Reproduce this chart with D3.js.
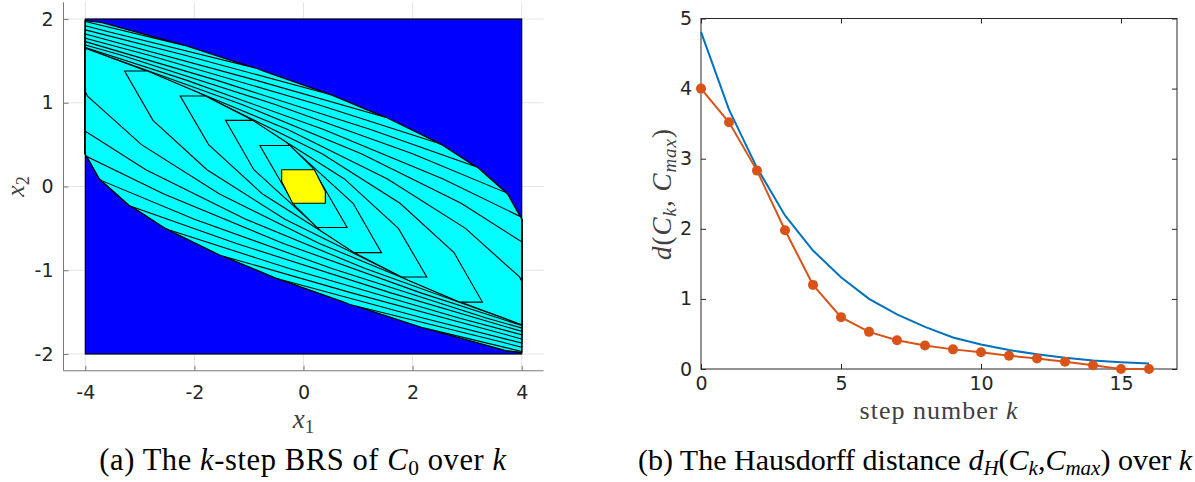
<!DOCTYPE html>
<html><head><meta charset="utf-8">
<script src="https://cdn.jsdelivr.net/npm/d3@7"></script>
<style>body{margin:0;background:#fff;} svg{display:block;}</style>
</head><body>
<svg id="c" width="1195" height="482"></svg>
<script>
// ---------- (a) k-step backward reachable sets (polygon vertices, x1,x2) ----------
const C0 = [[-0.40,0.20],[-0.40,0.06],[-0.20,-0.20],[0.40,-0.20],[0.40,-0.06],[0.20,0.20]];
const C1 = [[-0.80,0.49],[-0.25,0.49],[0.16,0.23],[0.80,-0.49],[0.25,-0.49],[-0.16,-0.23]];
const C2 = [[-1.43,0.79],[-0.93,0.79],[-0.32,0.53],[0.91,-0.20],[1.43,-0.79],[0.93,-0.79],[0.32,-0.53],[-0.91,0.20]];
const C3 = [[-2.26,1.08],[-1.80,1.08],[-1.02,0.82],[0.75,0.09],[1.74,-0.50],[2.26,-1.08],[1.80,-1.08],[1.02,-0.82],[-0.75,-0.09],[-1.74,0.50]];
const C4 = [[-3.28,1.38],[-2.86,1.38],[-1.92,1.12],[0.34,0.39],[1.77,-0.20],[2.76,-0.79],[3.28,-1.38],[2.86,-1.38],[1.92,-1.12],[-0.34,-0.39],[-1.77,0.20],[-2.76,0.79]];
const C5 = [[-4.00,1.65],[-3.00,1.41],[-0.29,0.68],[1.54,0.09],[2.97,-0.50],[3.96,-1.08],[4.00,-1.13],[4.00,-1.65],[3.00,-1.41],[0.29,-0.68],[-1.54,-0.09],[-2.97,0.50],[-3.96,1.08],[-4.00,1.13]];
const C6 = [[-4.00,1.65],[-1.13,0.98],[1.06,0.39],[2.89,-0.20],[4.00,-0.66],[4.00,-1.65],[1.13,-0.98],[-1.06,-0.39],[-2.89,0.20],[-4.00,0.66]];
const C7 = [[-4.00,1.66],[-2.15,1.27],[0.37,0.68],[2.56,0.09],[3.98,-0.36],[4.00,-0.39],[4.00,-1.66],[2.15,-1.27],[-0.37,-0.68],[-2.56,-0.09],[-3.98,0.36],[-4.00,0.39]];
const C8 = [[-4.00,1.69],[-3.35,1.57],[-0.52,0.98],[2.00,0.39],[3.70,-0.07],[3.74,-0.09],[4.00,-0.39],[4.00,-1.69],[3.35,-1.57],[0.52,-0.98],[-2.00,-0.39],[-3.70,0.07],[-3.74,0.09],[-4.00,0.39]];
const C9 = [[-4.00,1.73],[-1.60,1.27],[1.23,0.68],[3.19,0.23],[3.24,0.20],[3.74,-0.09],[4.00,-0.39],[4.00,-1.73],[1.60,-1.27],[-1.23,-0.68],[-3.19,-0.23],[-3.24,-0.20],[-3.74,0.09],[-4.00,0.39]];
const C10 = [[-4.00,1.77],[-2.85,1.57],[0.26,0.98],[2.46,0.52],[2.53,0.50],[3.24,0.20],[3.74,-0.09],[4.00,-0.39],[4.00,-1.77],[2.85,-1.57],[-0.26,-0.98],[-2.46,-0.52],[-2.53,-0.50],[-3.24,-0.20],[-3.74,0.09],[-4.00,0.39]];
const C11 = [[-4.00,1.82],[-0.88,1.27],[1.53,0.82],[1.62,0.79],[2.53,0.50],[3.24,0.20],[3.74,-0.09],[4.00,-0.39],[4.00,-1.82],[0.88,-1.27],[-1.53,-0.82],[-1.62,-0.79],[-2.53,-0.50],[-3.24,-0.20],[-3.74,0.09],[-4.00,0.39]];
const C12 = [[-4.00,1.87],[-2.19,1.57],[0.42,1.11],[0.52,1.09],[1.62,0.79],[2.53,0.50],[3.24,0.20],[3.74,-0.09],[4.00,-0.39],[4.00,-1.87],[2.19,-1.57],[-0.42,-1.11],[-0.52,-1.09],[-1.62,-0.79],[-2.53,-0.50],[-3.24,-0.20],[-3.74,0.09],[-4.00,0.39]];
const C13 = [[-4.00,1.92],[-3.65,1.86],[-0.85,1.41],[-0.74,1.38],[0.52,1.09],[1.62,0.79],[2.53,0.50],[3.24,0.20],[3.74,-0.09],[4.00,-0.39],[4.00,-1.92],[3.65,-1.86],[0.85,-1.41],[0.74,-1.38],[-0.52,-1.09],[-1.62,-0.79],[-2.53,-0.50],[-3.24,-0.20],[-3.74,0.09],[-4.00,0.39]];
const C14 = [[-4.00,1.97],[-2.28,1.70],[-2.16,1.68],[-0.74,1.38],[0.52,1.09],[1.62,0.79],[2.53,0.50],[3.24,0.20],[3.74,-0.09],[4.00,-0.39],[4.00,-1.97],[2.28,-1.70],[2.16,-1.68],[0.74,-1.38],[-0.52,-1.09],[-1.62,-0.79],[-2.53,-0.50],[-3.24,-0.20],[-3.74,0.09],[-4.00,0.39]];
const C15 = [[-4.00,1.98],[-3.71,1.96],[-2.16,1.68],[-0.74,1.38],[0.52,1.09],[1.62,0.79],[2.53,0.50],[3.24,0.20],[3.74,-0.09],[4.00,-0.39],[4.00,-1.98],[3.71,-1.96],[2.16,-1.68],[0.74,-1.38],[-0.52,-1.09],[-1.62,-0.79],[-2.53,-0.50],[-3.24,-0.20],[-3.74,0.09],[-4.00,0.39]];
const C16 = [[-4.00,1.98],[-3.71,1.96],[-2.16,1.68],[-0.74,1.38],[0.52,1.09],[1.62,0.79],[2.53,0.50],[3.24,0.20],[3.74,-0.09],[4.00,-0.39],[4.00,-1.98],[3.71,-1.96],[2.16,-1.68],[0.74,-1.38],[-0.52,-1.09],[-1.62,-0.79],[-2.53,-0.50],[-3.24,-0.20],[-3.74,0.09],[-4.00,0.39]];
const brsSets = [C0,C1,C2,C3,C4,C5,C6,C7,C8,C9,C10,C11,C12,C13,C14,C15,C16];
const stateBoxX1 = [-4, 4];
const stateBoxX2 = [-2, 2];
const xTicksA = [-4,-2,0,2,4];
const yTicksA = [-2,-1,0,1,2];

// ---------- (b) Hausdorff distance over k ----------
const steps = [0,1,2,3,4,5,6,7,8,9,10,11,12,13,14,15,16];
const boundCurve = [4.81,3.70,2.87,2.19,1.69,1.31,1.00,0.78,0.60,0.45,0.35,0.27,0.21,0.16,0.12,0.095,0.077];
const hausdorff  = [4.00,3.52,2.83,1.98,1.20,0.74,0.53,0.41,0.335,0.28,0.24,0.19,0.15,0.105,0.053,0.0,0.0];
const xTicksB = [0,5,10,15];
const yTicksB = [0,1,2,3,4,5];

const svg = d3.select('#c');
const SERIF = "'Liberation Serif','Times New Roman',serif";
const SANS = "'DejaVu Sans',sans-serif";

function richText(g, segs, size){
  let prevSub = false;
  segs.forEach(([t,it,sub])=>{
    const ts = g.append('tspan').text(t).attr('font-style', it?'italic':'normal');
    if(sub){ ts.attr('font-size', size*0.7); if(!prevSub) ts.attr('dy', size*0.18); }
    else if(prevSub){ ts.attr('dy', -size*0.18); }
    prevSub = sub;
  });
}

// ===== panel (a) =====
const xA = d3.scaleLinear([-4.4,4.4],[63.5,543.5]);
const yA = d3.scaleLinear([-2.2,2.2],[370.75,2.25]);
const gA = svg.append('g');
xTicksA.forEach(t=>gA.append('line').attr('x1',xA(t)).attr('x2',xA(t)).attr('y1',yA(2.2)).attr('y2',yA(-2.2)).attr('stroke','#e4e4e4'));
yTicksA.forEach(t=>gA.append('line').attr('y1',yA(t)).attr('y2',yA(t)).attr('x1',xA(-4.4)).attr('x2',xA(4.4)).attr('stroke','#e4e4e4'));
gA.append('rect').attr('x',xA(stateBoxX1[0])).attr('y',yA(stateBoxX2[1]))
  .attr('width',xA(stateBoxX1[1])-xA(stateBoxX1[0])).attr('height',yA(stateBoxX2[0])-yA(stateBoxX2[1]))
  .attr('fill','#0000ff').attr('stroke','#000').attr('stroke-width',1.2);
const polyLine = d3.line().x(d=>xA(d[0])).y(d=>yA(d[1]));
for(let k=brsSets.length-1;k>=0;k--){
  gA.append('path').attr('d',polyLine(brsSets[k])+'Z')
    .attr('fill', k===0?'#ffff00':'#00ffff').attr('stroke','#000').attr('stroke-width',1.1).attr('stroke-linejoin','miter');
}
const axA = gA.append('g').attr('transform',`translate(0,${yA(-2.2)})`)
  .call(d3.axisBottom(xA).tickValues(xTicksA).tickSize(-5).tickPadding(15).tickFormat(d=>String(d)));
const ayA = gA.append('g').attr('transform',`translate(${xA(-4.4)},0)`)
  .call(d3.axisLeft(yA).tickValues(yTicksA).tickSize(-5).tickPadding(10).tickFormat(d=>String(d)));
[axA,ayA].forEach(g=>{g.select('.domain').attr('stroke','#7a7a7a');g.selectAll('.tick line').attr('stroke','#7a7a7a');
  g.selectAll('text').attr('font-family',SANS).attr('font-size',19).attr('fill','#262626');});
axA.select('.domain').attr('d',`M${xA(-4.4)},0H${xA(4.4)}`);
ayA.select('.domain').attr('d',`M0,${yA(2.2)}V${yA(-2.2)}`);
richText(gA.append('text').attr('x',xA(0)).attr('y',428).attr('text-anchor','middle').attr('font-family',SERIF).attr('font-size',27).attr('fill','#404040'),
  [['x',true,false],['1',false,true]],27);
richText(gA.append('text').attr('transform',`translate(24,${yA(0)}) rotate(-90)`).attr('text-anchor','middle').attr('font-family',SERIF).attr('font-size',26).attr('fill','#404040'),
  [['x',true,false],['2',false,true]],26);
richText(gA.append('text').attr('x',303).attr('y',470).attr('text-anchor','middle').attr('font-family',SERIF).attr('font-size',30.5).attr('letter-spacing',0.6).attr('fill','#000'),
  [['(a) The ',false,false],['k',true,false],['-step BRS of ',false,false],['C',true,false],['0',false,true],[' over ',false,false],['k',true,false]],30.5);

// ===== panel (b) =====
const xB = d3.scaleLinear([0,17],[701,1177]);
const yB = d3.scaleLinear([0,5],[369,18.5]);
const gB = svg.append('g');
const dark = '#262626';
gB.append('rect').attr('x',xB(0)).attr('y',yB(5)).attr('width',xB(17)-xB(0)).attr('height',yB(0)-yB(5))
  .attr('fill','none').attr('stroke',dark).attr('stroke-width',1);
const axB = gB.append('g').attr('transform',`translate(0,${yB(0)})`)
  .call(d3.axisBottom(xB).tickValues(xTicksB).tickSize(-5).tickPadding(8).tickFormat(d=>String(d)));
const axBt = gB.append('g').attr('transform',`translate(0,${yB(5)})`)
  .call(d3.axisTop(xB).tickValues(xTicksB).tickSize(-5).tickFormat(''));
const ayB = gB.append('g').attr('transform',`translate(${xB(0)},0)`)
  .call(d3.axisLeft(yB).tickValues(yTicksB).tickSize(-5).tickPadding(9).tickFormat(d=>String(d)));
const ayBr = gB.append('g').attr('transform',`translate(${xB(17)},0)`)
  .call(d3.axisRight(yB).tickValues(yTicksB).tickSize(-5).tickFormat(''));
[axB,axBt,ayB,ayBr].forEach(g=>{g.select('.domain').remove();g.selectAll('.tick line').attr('stroke',dark);
  g.selectAll('text').attr('font-family',SANS).attr('font-size',19).attr('fill',dark);});
const lineB = d3.line().x((d,i)=>xB(steps[i])).y(d=>yB(d));
gB.append('path').attr('d',lineB(boundCurve)).attr('fill','none').attr('stroke','#0072bd').attr('stroke-width',2);
gB.append('path').attr('d',lineB(hausdorff)).attr('fill','none').attr('stroke','#d95319').attr('stroke-width',2);
gB.selectAll('circle.m').data(hausdorff).join('circle').attr('class','m')
  .attr('cx',(d,i)=>xB(steps[i])).attr('cy',d=>yB(d)).attr('r',5).attr('fill','#d95319');
richText(gB.append('text').attr('x',(xB(0)+xB(17))/2).attr('y',419).attr('text-anchor','middle').attr('font-family',SERIF).attr('font-size',26).attr('letter-spacing',1).attr('fill','#404040'),
  [['step number ',false,false],['k',true,false]],26);
richText(gB.append('text').attr('transform',`translate(671,194) rotate(-90)`).attr('text-anchor','middle').attr('font-family',SERIF).attr('font-size',27).attr('letter-spacing',1).attr('fill','#404040'),
  [['d',true,false],['(',false,false],['C',true,false],['k',true,true],[', ',false,false],['C',true,false],['max',true,true],[')',false,false]],27);
richText(gB.append('text').attr('x',915).attr('y',470).attr('text-anchor','middle').attr('font-family',SERIF).attr('font-size',30).attr('fill','#000'),
  [['(b) The Hausdorff distance ',false,false],['d',true,false],['H',true,true],['(',false,false],['C',true,false],['k',true,true],[',',false,false],['C',true,false],['max',true,true],[')',false,false],[' over ',false,false],['k',true,false]],30);
</script>
</body></html>
